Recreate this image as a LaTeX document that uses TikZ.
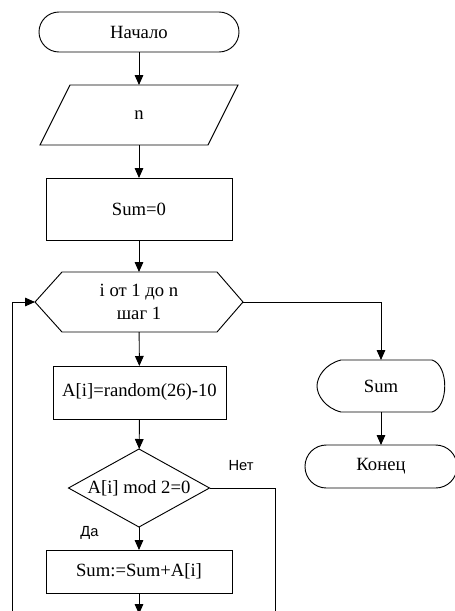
\documentclass[tikz,border=0pt]{standalone}
\usepackage{fontspec}
\setmainfont{Liberation Serif}
\newfontfamily\labelfont{Liberation Sans}
\usetikzlibrary{arrows.meta,calc}
\begin{document}
\begin{tikzpicture}[
  x=0.75pt, y=-0.75pt,
  line width=0.7pt,
  every node/.style={font=\fontsize{14}{17}\selectfont},
  frame/.style={rectangle, inner sep=0pt, outer sep=0pt, align=center},
  block/.style={frame, draw},
  flow/.style={-{Triangle[length=7.5pt,width=6.5pt]}},
  branch/.style={font=\labelfont\fontsize{11}{13}\selectfont, inner sep=0pt}
]
% canvas
\fill[white] (0,0) rectangle (454,611);
\useasboundingbox (0,0) rectangle (454,611);

% blocks
\node[block, rounded corners=15pt, minimum width=150pt, minimum height=30pt] (start) at (139,32) {Начало};
\node[frame, minimum width=148.5pt, minimum height=45pt] (input) at (139,115) {n};
\node[block, minimum width=139.5pt, minimum height=46.5pt] (init) at (139,209) {Sum=0};
\node[frame, minimum width=156pt, minimum height=45pt] (loop) at (139,302) {i от 1 до n\\шаг 1};
\node[block, minimum width=129.75pt, minimum height=39.75pt] (gen) at (139.5,392.5) {A[i]=random(26)-10};
\node[frame, minimum width=105.75pt, minimum height=58.5pt] (cond) at (139,488) {A[i] mod 2=0};
\node[block, minimum width=139.5pt, minimum height=32.25pt] (add) at (139,571.5) {Sum:=Sum+A[i]};
\node[frame, minimum width=96pt, minimum height=39pt] (out) at (381,386) {Sum};
\node[block, rounded corners=16pt, minimum width=114pt, minimum height=32.25pt] (finish) at (381,466.5) {Конец};

% outlines of the non-rectangular blocks
\draw ($(input.north west)+(30,0)$) -- (input.north east)
      -- ($(input.south east)+(-30,0)$) -- (input.south west) -- cycle;
\draw (loop.west) -- ($(loop.north west)+(27,0)$) -- ($(loop.north east)+(-26,0)$)
      -- (loop.east) -- ($(loop.south east)+(-26,0)$) -- ($(loop.south west)+(27,0)$) -- cycle;
\draw (cond.north) -- (cond.east) -- (cond.south) -- (cond.west) -- cycle;
\draw ($(out.north west)+(24,0)$) -- ($(out.north east)+(-13,0)$)
      .. controls ($(out.north east)+(4,5)$) and ($(out.south east)+(4,-5)$) .. ($(out.south east)+(-13,0)$)
      -- ($(out.south west)+(24,0)$)
      .. controls ($(out.south west)+(8,-4)$) and ($(out.west)+(0,9)$) .. (out.west)
      .. controls ($(out.west)+(0,-9)$) and ($(out.north west)+(8,4)$) .. ($(out.north west)+(24,0)$);

% loose ends leaving the sheet
\coordinate (back) at (12,616);
\coordinate (skip) at (275,616);
\coordinate (next) at (139,614);

% connectors
\draw[flow] (start) -- (input);
\draw[flow] (input) -- (init);
\draw[flow] (init) -- (loop);
\draw[flow] (loop) -- (gen);
\draw[flow] (gen) -- (cond);
\draw[flow] (cond) -- (add);
\draw[flow] (add) -- (next);
\draw (cond.east) -| (skip);
\draw[flow] (back) |- (loop.west);
\draw[flow] (loop.east) -| (out.north);
\draw[flow] (out) -- (finish);

% branch labels
\node[branch] (yes) at (89.5,533) {Да};
\node[branch] (no) at (241,466) {Нет};
\end{tikzpicture}
\end{document}
